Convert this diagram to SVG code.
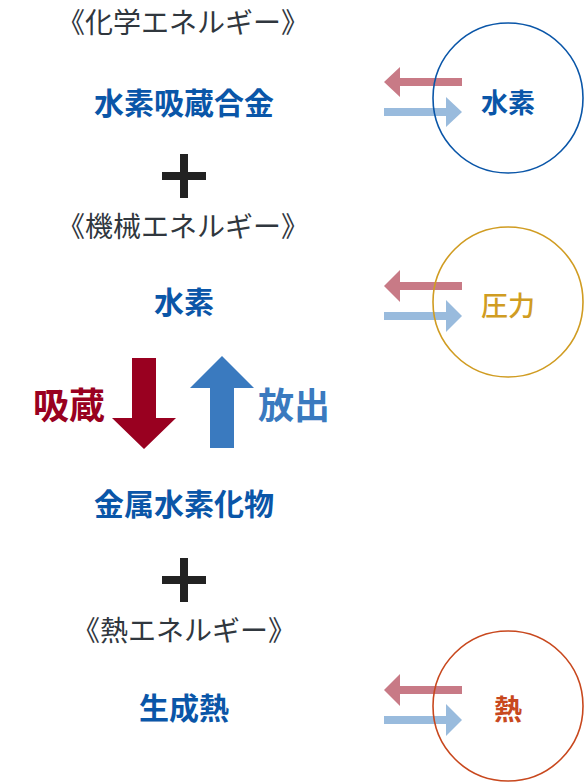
<svg xmlns="http://www.w3.org/2000/svg" width="584" height="782" viewBox="0 0 584 782">
<style>
.t{font-family:"Noto Sans CJK JP","Noto Sans",sans-serif;text-anchor:middle;dominant-baseline:central}
.title{font-size:28px;fill:#30373e}
.main{font-size:30px;font-weight:bold;fill:#0a56a8}
.ra{fill:#c87a86}
.ba{fill:#99bbdd}
.plus{fill:#222222}
.c{fill:none;stroke-width:1.6}
</style>
<rect width="584" height="782" fill="#ffffff"/>
<g id="connectors">
<path class="ra" d="M384,82 L400,67 L400,78 L462,78 L462,86 L400,86 L400,97 Z"/>
<path class="ba" d="M462,112 L446,97 L446,108 L384,108 L384,116 L446,116 L446,127 Z"/>
<path class="ra" d="M384,286 L400,270 L400,282 L462,282 L462,290 L400,290 L400,302 Z"/>
<path class="ba" d="M462,316 L446,300 L446,312 L384,312 L384,320 L446,320 L446,332 Z"/>
<path class="ra" d="M384,690 L400,674 L400,686 L462,686 L462,694 L400,694 L400,706 Z"/>
<path class="ba" d="M462,720 L446,704 L446,716 L384,716 L384,724 L446,724 L446,736 Z"/>
<path id="absorb-arrow" fill="#990020" d="M132,358 L156,358 L156,418 L176,418 L144,449 L112,418 L132,418 Z"/>
<path id="release-arrow" fill="#3a7abf" d="M222,356 L254,388 L234,388 L234,448 L210,448 L210,388 L190,388 Z"/>
</g>
<g id="title-chemical"><text class="t title" x="183" y="21">《化学エネルギー》</text></g>
<g id="alloy"><text class="t main" x="184" y="101">水素吸蔵合金</text></g>
<g id="plus1"><rect class="plus" x="162" y="172" width="44" height="8"/><rect class="plus" x="180" y="154" width="8" height="44"/></g>
<g id="title-mechanical"><text class="t title" x="183" y="225">《機械エネルギー》</text></g>
<g id="hydrogen"><text class="t main" x="184" y="300">水素</text></g>
<g id="absorb"><text class="t" x="69" y="403" style="font-size:36px;font-weight:bold;fill:#990020">吸蔵</text></g>
<g id="release"><text class="t" x="294" y="403" style="font-size:36px;font-weight:bold;fill:#3a7abf">放出</text></g>
<g id="hydride"><text class="t main" x="184" y="502">金属水素化物</text></g>
<g id="plus2"><rect class="plus" x="162" y="576" width="44" height="8"/><rect class="plus" x="180" y="558" width="8" height="44"/></g>
<g id="title-heat"><text class="t title" x="184" y="629">《熱エネルギー》</text></g>
<g id="heat-of-formation"><text class="t main" x="184" y="706">生成熱</text></g>
<g id="circle-hydrogen"><circle class="c" cx="508" cy="98" r="75" stroke="#0a56a8"/><text class="t" x="508" y="101" style="font-size:27px;font-weight:bold;fill:#0a56a8">水素</text></g>
<g id="circle-pressure"><circle class="c" cx="508" cy="302" r="75" stroke="#d09c22"/><text class="t" x="508" y="304" style="font-size:27px;font-weight:500;fill:#d09c22">圧力</text></g>
<g id="circle-heat"><circle class="c" cx="508" cy="706" r="75" stroke="#c8481e"/><text class="t" x="508" y="708" style="font-size:28px;font-weight:bold;fill:#c8481e">熱</text></g>
</svg>
